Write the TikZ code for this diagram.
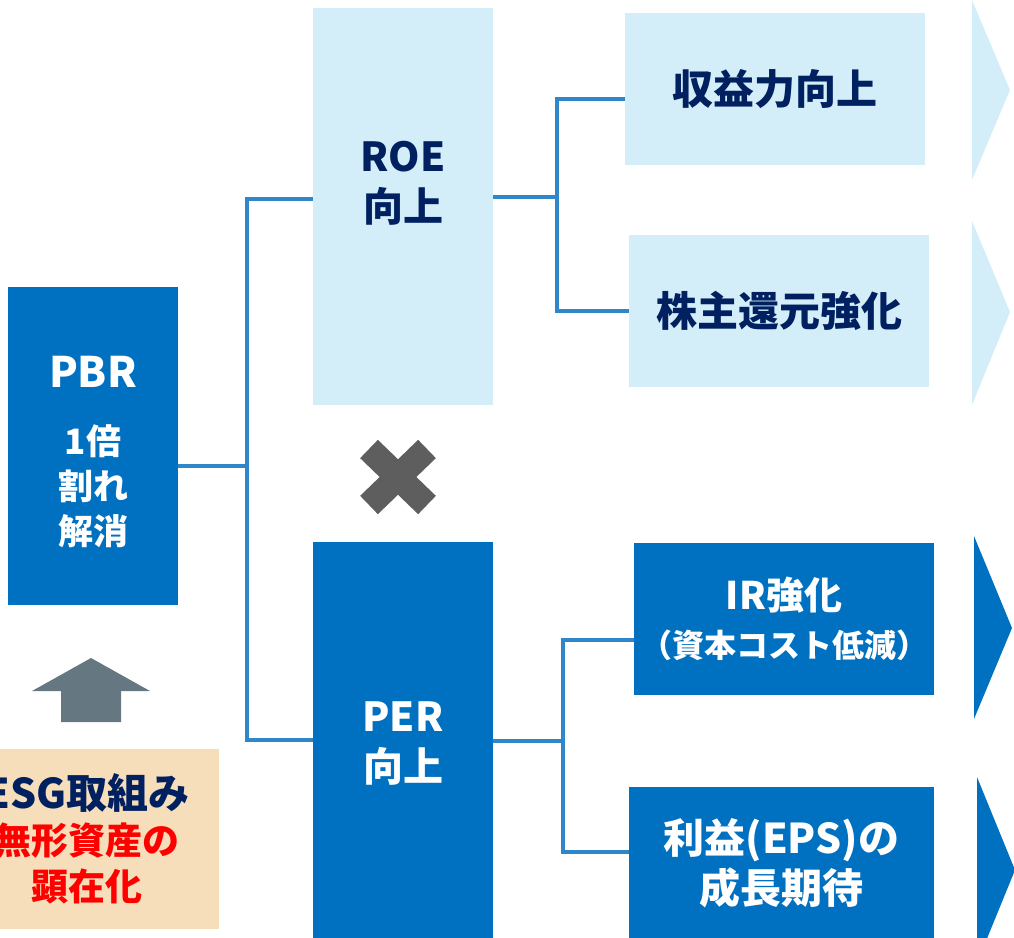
\documentclass[tikz,border=0pt]{standalone}
\usepackage{fontspec}
\setmainfont{Noto Sans CJK JP}
\definecolor{dblue}{HTML}{0070C0}
\definecolor{lblue}{HTML}{D4EEF9}
\definecolor{navy}{HTML}{002060}
\definecolor{lineblue}{HTML}{2F86C9}
\definecolor{crossgray}{HTML}{5E5E5E}
\definecolor{arrowgray}{HTML}{657780}
\definecolor{esgbg}{HTML}{F7DEBB}
\begin{document}
\begin{tikzpicture}[x=1pt,y=-1pt,
    box/.style={rectangle,inner sep=0pt,outer sep=0pt,align=center},
    darkbox/.style={box,fill=dblue,text=white},
    lightbox/.style={box,fill=lblue,text=navy},
    conn/.style={draw=lineblue,line width=3.5pt}]
  \useasboundingbox (0,0) rectangle (1014,937);
  \clip (0,0) rectangle (1014,937);
  \node[darkbox,minimum width=170,minimum height=318] (pbr) at (93,446) {};
  \node[box,text=white,font=\bfseries\fontsize{35}{45}\selectfont]
    (pbrt) at (93,452) {{\fontsize{42}{42}\selectfont PBR}\\[22pt]1倍\\割れ\\解消};
  \node[lightbox,minimum width=180,minimum height=397] (roe) at (403,206.5) {};
  \node[box,text=navy,font=\bfseries\fontsize{40}{50}\selectfont] (roet) at (403,183) {ROE\\向上};
  \node[darkbox,minimum width=180,minimum height=404,font=\bfseries\fontsize{40}{50}\selectfont]
    (per) at (403,744) {PER\\向上};
  \node[lightbox,minimum width=300,minimum height=152,font=\bfseries\fontsize{41}{50}\selectfont]
    (k1) at (775,89) {収益力向上};
  \node[lightbox,minimum width=300,minimum height=152,font=\bfseries\fontsize{41}{50}\selectfont]
    (k2) at (779,311) {株主還元強化};
  \node[darkbox,minimum width=300,minimum height=152,font=\bfseries\fontsize{32}{48}\selectfont]
    (k3) at (784,619) {{\fontsize{38}{38}\selectfont IR強化}\\（資本コスト低減）};
  \node[darkbox,minimum width=305,minimum height=153,font=\bfseries\fontsize{41}{50}\selectfont]
    (k4) at (781.5,863.5) {利益(EPS)の\\成長期待};
  \node[box,fill=esgbg,text=red,minimum width=264,minimum height=180,font=\bfseries\fontsize{37}{46}\selectfont]
    (esg) at (87,839) {{\fontsize{41}{46}\selectfont\color{navy}ESG取組み}\\無形資産の\\顕在化};

  \fill[lblue] (972,0) -- (1010,90) -- (972,180) -- cycle;
  \fill[lblue] (972,221) -- (1010,312) -- (972,405) -- cycle;
  \fill[dblue] (974,536) -- (1012,628) -- (974,719) -- cycle;
  \fill[dblue] (977,777) -- (1015,870) -- (977,963) -- cycle;

  \fill[arrowgray] (91,658) -- (150,691) -- (121,691) -- (121,722)
    -- (61,722) -- (61,691) -- (32,691) -- cycle;
  \draw[crossgray,line width=25.5pt] (369,449) -- (427,505) (369,505) -- (427,449);

  \begin{scope}[conn]
    \draw ([yshift=-20]pbr.east) -- ++(69,0) coordinate (b1);
    \draw ([yshift=7.5]roe.west) -| (b1) |- ([yshift=4]per.west);
    \draw ([yshift=9.5]roe.east) -- ++(64,0) coordinate (b2);
    \draw ([yshift=-10]k1.west) -| (b2) |- (k2.west);
    \draw ([yshift=3]per.east) -- ++(70,0) coordinate (b3);
    \draw ([yshift=-21]k3.west) -| (b3) |- ([yshift=11.5]k4.west);
  \end{scope}
\end{tikzpicture}
\end{document}
